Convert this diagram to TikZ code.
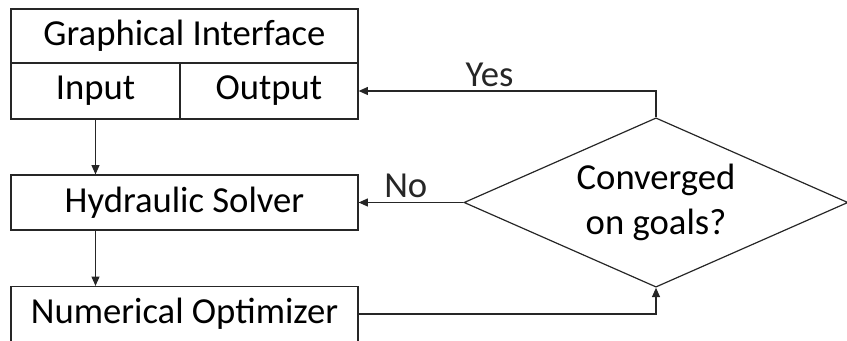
\documentclass[tikz,border=0pt]{standalone}
\usepackage{fontspec}
\setmainfont{Carlito}
\usepackage{tikz}
\usetikzlibrary{shapes.geometric, arrows.meta, positioning, calc}
\definecolor{linegray}{HTML}{262626}

\begin{document}
\begin{tikzpicture}[
  x=0.75pt, y=-0.75pt,
  blk/.style={rectangle, draw=linegray, line width=0.9pt, inner sep=0pt,
              font=\fontsize{27.5}{32}\selectfont, text=black},
  dec/.style={diamond, aspect=2.27, draw=linegray, line width=0.9pt, inner sep=0pt,
              minimum width=288pt, minimum height=127pt, align=center,
              font=\fontsize{27.5}{34}\selectfont, text=black},
  flow/.style={-{Triangle[length=7pt,width=6pt]}, line width=0.9pt, linegray},
  lbl/.style={font=\fontsize{27.5}{32}\selectfont, inner sep=3pt},
]
  \useasboundingbox (0,0) rectangle (847,341);

  \node[blk, minimum width=260.25pt, minimum height=40.5pt] (gui)    at (184.5,36)  {Graphical Interface};
  \node[blk, minimum width=126.75pt, minimum height=42pt]   (input)  at (95.5,91)   {Input};
  \node[blk, minimum width=133.5pt,  minimum height=42pt]   (output) at (269,91)    {Output};
  \node[blk, minimum width=260.25pt, minimum height=41.25pt] (solver) at (184.5,202.5) {Hydraulic Solver};
  \node[blk, minimum width=260.25pt, minimum height=41.25pt] (optim)  at (184.5,314) {Numerical Optimizer};
  \node[dec] (conv) at (656,202.5) {Converged\\on goals?};

  \draw[flow] (input.south) -- (input.south |- solver.north);
  \draw[flow] (input.south |- solver.south) -- (input.south |- optim.north);
  \draw[flow] (optim.east) -| (conv.south);
  \draw[flow] (conv.north) |- node[lbl, above, pos=0.78]{Yes} (output.east);
  \draw[flow] (conv.west) -- node[lbl, above, pos=0.55]{No} (solver.east);
\end{tikzpicture}
\end{document}
